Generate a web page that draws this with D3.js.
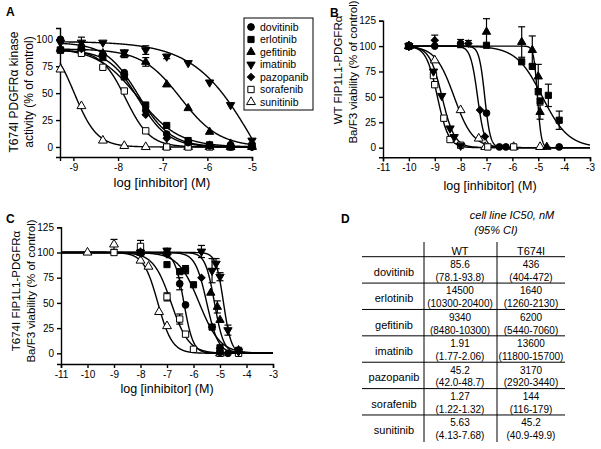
<!DOCTYPE html>
<html><head><meta charset="utf-8">
<script src="https://cdn.jsdelivr.net/npm/d3@7"></script>
<style>
body{margin:0;background:#fff}
svg{display:block}
text{font-family:"Liberation Sans",Arial,sans-serif;fill:#000}
</style>
</head><body>
<svg id="fig" width="601" height="449"></svg>
<script>
// ---------------- DATA ----------------
const drugs = ["dovitinib","erlotinib","gefitinib","imatinib","pazopanib","sorafenib","sunitinib"];

// Panel A: T674I PDGFRa kinase activity (% of control)
const doseA = [-9.29,-8.82,-8.34,-7.86,-7.38,-6.91,-6.43,-5.95,-5.48,-5.0];
const aDovitinib = [100,93,86,69,34,12,4,1,0,0];
const aErlotinib = [90,92,83,65,39,20,6,2,1,1];
const aGefitinib = [91,92,87,86,79,58,36,14,3,1];
const aImatinib  = [97,97,97,88,90,84,78,60,39,6];
const aPazopanib = [90,91,86,67,30,8,5,2,1,0];
const aSorafenib = [90,87,74,52,15,0,0,0,0,1];
const aSunitinib = [72,38,6,1,0,0,0,0,0,0];
const aErrGefitinib = [0,0,0,3,4,0,0,0,0,0];
const aErrImatinib  = [0,5,0,0,4,2,0,0,0,0];
// fitted curve parameters for panel A
const aTop    = [97,92,91,98,90,90,100];
const aBottom = [0,0,0,-100,0,0,0];
const aLogIC50= [-7.55,-7.55,-6.6,-4.88,-7.55,-7.83,-8.98];
const aHill   = [1.2,0.95,1.0,0.63,1.3,1.6,1.7];

// Panel B: WT FIP1L1-PDGFRa Ba/F3 viability  [log dose, %, error]
const bDovitinib = [[-10,100,0],[-9,100,0],[-8.0,102.5,4],[-7.0,34,0],[-6.5,0.7,0],[-6.25,0.7,0],[-4.19,0.7,0]];
const bErlotinib = [[-10,100,0],[-7.0,100.8,0],[-5.64,84.5,0],[-5.23,80,0],[-5.0,55,0],[-4.93,46,0],[-4.61,51.5,11],[-4.19,27,9]];
const bGefitinib = [[-10,100,0],[-7.0,114,13],[-5.64,104,15],[-5.23,96,14],[-5.0,70,12],[-4.93,35,7],[-4.67,0.7,0]];
const bImatinib  = [[-10,100,0],[-9.05,75,0],[-8.73,51,0],[-8.41,19,0],[-8.25,10.5,0],[-8.0,2,0]];
const bPazopanib = [[-10,100,0],[-9.0,105.8,5],[-7.7,102.5,3],[-7.25,37,0],[-7.06,11,0]];
const bSorafenib = [[-10,100,0],[-9.05,71,0],[-9.0,62,0],[-8.65,29,0],[-8.41,8,0],[-8.0,2.4,0],[-6.95,0.7,0],[-5.95,0.7,0]];
const bSunitinib = [[-10,100,0],[-9.0,86,0],[-8.0,37,0],[-7.3,9,0],[-7.05,0.7,0],[-5.95,0.7,0],[-4.93,0.7,0]];
const bHill = [4.0,0.86,6.0,1.8,3.2,2.0,1.2];

// Panel C: T674I FIP1L1-PDGFRa Ba/F3 viability  [log dose, %, error]
const cDovitinib = [[-8,100,0],[-7,100,0],[-6.52,69,6],[-6.3,48,0],[-5.0,1,0],[-4.7,0,0]];
const cErlotinib = [[-8,100,0],[-7,88,0],[-6.52,81,0],[-6.3,83,4],[-6.0,68,0],[-5.3,26,0],[-5.0,5.5,0],[-4.3,3,0]];
const cGefitinib = [[-8,100,0],[-7,100,0],[-5.35,60,0],[-5.1,46,6],[-5.0,33,0],[-4.3,3,0]];
const cImatinib  = [[-8,100,0],[-7,102,0],[-5.7,101,6],[-5.3,82,12],[-5.15,89,5],[-5.0,76,4],[-4.7,23,5],[-4.3,2,0]];
const cPazopanib = [[-8,100,0],[-7,98,0],[-5.7,75,0],[-5.3,26,0],[-5.0,5,0],[-4.3,2,0]];
const cSorafenib = [[-9,100,0],[-8,106,6],[-7,56,4],[-6.52,34,5],[-6.3,19,0],[-6.0,4,0],[-5.0,0,0],[-4.3,0,0]];
const cSunitinib = [[-10,100,0],[-9,108,5],[-8,92,0],[-7.7,86,0],[-7.3,41,0],[-7.0,27,0],[-5.0,0,0]];
const cHill = [2.5,1.1,2.5,3.0,2.0,1.3,1.6];

// Panel D: cell line IC50, nM (95% CI)
const wtIC50 = [85.6,14500,9340,1.91,45.2,1.27,5.63];
const wtCI   = ["78.1-93.8","10300-20400","8480-10300","1.77-2.06","42.0-48.7","1.22-1.32","4.13-7.68"];
const mutIC50 = [436,1640,6200,13600,3170,144,45.2];
const mutCI   = ["404-472","1260-2130","5440-7060","11800-15700","2920-3440","116-179","40.9-49.9"];

const ticksA_x = [-9,-8,-7,-6,-5];
const ticksA_y = [0,25,50,75,100];
const ticksBC_x = [-11,-10,-9,-8,-7,-6,-5,-4,-3];
const ticksBC_y = [0,25,50,75,100,125];

// ---------------- DRAWING ----------------
const svg = d3.select("#fig");
svg.append("rect").attr("width",601).attr("height",449).attr("fill","#fff");
const FONT = '"Liberation Sans",Arial,sans-serif';

const aValues = [aDovitinib,aErlotinib,aGefitinib,aImatinib,aPazopanib,aSorafenib,aSunitinib];
const aErrors = [null,null,aErrGefitinib,aErrImatinib,null,null,null];
const bPoints = [bDovitinib,bErlotinib,bGefitinib,bImatinib,bPazopanib,bSorafenib,bSunitinib];
const cPoints = [cDovitinib,cErlotinib,cGefitinib,cImatinib,cPazopanib,cSorafenib,cSunitinib];

function logistic(top,bottom,c,h){ return x => bottom + (top-bottom)/(1+Math.pow(10,h*(x-c))); }

function drawMarker(g, i, x, y){
  const s = g.append("path").attr("stroke","#000").attr("stroke-width",1);
  let t = `translate(${x},${y})`;
  let p;
  if(i===0){ p = d3.symbol().type(d3.symbolCircle).size(36)(); s.attr("fill","#000"); }
  else if(i===1){ p = d3.symbol().type(d3.symbolSquare).size(38)(); s.attr("fill","#000"); }
  else if(i===2){ p = d3.symbol().type(d3.symbolTriangle).size(30)(); s.attr("fill","#000"); }
  else if(i===3){ p = d3.symbol().type(d3.symbolTriangle).size(30)(); s.attr("fill","#000"); t += " rotate(180)"; }
  else if(i===4){ p = d3.symbol().type(d3.symbolSquare).size(26)(); s.attr("fill","#000"); t += " rotate(45)"; }
  else if(i===5){ p = d3.symbol().type(d3.symbolSquare).size(40)(); s.attr("fill","#fff"); }
  else { p = d3.symbol().type(d3.symbolTriangle).size(34)(); s.attr("fill","#fff"); }
  s.attr("d",p).attr("transform",t);
}

function drawPanel(cfg){
  const g = svg.append("g");
  const x = d3.scaleLinear().domain(cfg.xDom).range(cfg.xRange);
  const y = d3.scaleLinear().domain(cfg.yDom).range(cfg.yRange);
  // axes
  const ax = g.append("g").attr("transform",`translate(0,${cfg.yRange[0]})`)
    .call(d3.axisBottom(x).tickValues(cfg.xTicks).tickFormat(d=>String(d)).tickSizeOuter(0).tickSize(4).tickPadding(3));
  const ay = g.append("g").attr("transform",`translate(${cfg.xRange[0]},0)`)
    .call(d3.axisLeft(y).tickValues(cfg.yTicks).tickFormat(d=>String(d)).tickSizeOuter(0).tickSize(4).tickPadding(3));
  [ax,ay].forEach(a=>{
    a.selectAll("path,line").attr("stroke","#000").attr("stroke-width",1.4);
    a.selectAll("text").attr("font-size",10).attr("font-family",FONT).attr("fill","#000");
  });
  // curves
  const line = d3.line().x(d=>x(d[0])).y(d=>y(d[1]));
  cfg.curves.forEach(f=>{
    const pts = d3.range(cfg.curveDom[0], cfg.curveDom[1]+1e-9, 0.01).map(v=>[v,f(v)]);
    g.append("path").attr("d",line(pts)).attr("fill","none").attr("stroke","#000").attr("stroke-width",1.4);
  });
  // points
  for(let i=cfg.points.length-1;i>=0;i--){
    cfg.points[i].forEach(p=>{
      if(p[2]>0){
        const px=x(p[0]), y1=y(p[1]+p[2]), y2=y(p[1]-p[2]);
        g.append("line").attr("x1",px).attr("x2",px).attr("y1",y1).attr("y2",y2).attr("stroke","#000").attr("stroke-width",1.2);
        g.append("line").attr("x1",px-3.5).attr("x2",px+3.5).attr("y1",y1).attr("y2",y1).attr("stroke","#000").attr("stroke-width",1.2);
        g.append("line").attr("x1",px-3.5).attr("x2",px+3.5).attr("y1",y2).attr("y2",y2).attr("stroke","#000").attr("stroke-width",1.2);
      }
      drawMarker(g,i,x(p[0]),y(p[1]));
    });
  }
  // titles
  g.append("text").attr("x",cfg.xTitle[0]).attr("y",cfg.xTitle[1]).attr("text-anchor","middle")
    .attr("font-size",cfg.xTitleSize).text("log [inhibitor] (M)");
  cfg.yTitles.forEach(t=>{
    g.append("text").attr("transform",`translate(${t[0]},${t[1]}) rotate(-90)`).attr("text-anchor","middle")
      .attr("font-size",cfg.yTitleSize).text(t[2]);
  });
  g.append("text").attr("x",cfg.letter[0]).attr("y",cfg.letter[1]).attr("font-size",12).attr("font-weight","bold").text(cfg.letter[2]);
}

// Panel A
drawPanel({
  xDom:[-9.3,-5], xRange:[60,252], yDom:[-9.3,110.5], yRange:[157,28],
  xTicks:ticksA_x, yTicks:ticksA_y, curveDom:[-9.3,-5],
  curves: drugs.map((d,i)=>logistic(aTop[i],aBottom[i],aLogIC50[i],aHill[i])),
  points: aValues.map((vals,i)=>vals.map((v,k)=>[doseA[k],v,aErrors[i]?aErrors[i][k]:0])),
  xTitle:[162,187], xTitleSize:13,
  yTitles:[[18,92,"T674I PDGFRα kinase"],[33,92,"activity (% of control)"]], yTitleSize:12,
  letter:[6,16,"A"]
});
// Panel B
drawPanel({
  xDom:[-11,-3], xRange:[383,590], yDom:[-9.5,125], yRange:[157.3,20.7],
  xTicks:ticksBC_x, yTicks:ticksBC_y, curveDom:[-10,-3],
  curves: drugs.map((d,i)=>logistic(100,0,Math.log10(wtIC50[i]*1e-9),bHill[i])),
  points: bPoints,
  xTitle:[490,190], xTitleSize:12.5,
  yTitles:[[342,70,"WT FIP1L1-PDGFRα"],[357,72,"Ba/F3 viability (% of control)"]], yTitleSize:11.5,
  letter:[330,17,"B"]
});
// Panel C
drawPanel({
  xDom:[-11,-3], xRange:[61,273], yDom:[-10.6,125], yRange:[364,227.3],
  xTicks:ticksBC_x, yTicks:ticksBC_y, curveDom:[-11,-3],
  curves: drugs.map((d,i)=>logistic(100,0,Math.log10(mutIC50[i]*1e-9),cHill[i])),
  points: cPoints,
  xTitle:[167,393], xTitleSize:12.5,
  yTitles:[[20,291,"T674I FIP1L1-PDGFRα"],[35,291,"Ba/F3 viability (% of control)"]], yTitleSize:11.5,
  letter:[6,223,"C"]
});

// Legend (panel A)
const leg = svg.append("g");
leg.append("rect").attr("x",244).attr("y",18).attr("width",69).attr("height",92)
  .attr("fill","#fff").attr("stroke","#000").attr("stroke-width",1);
drugs.forEach((d,i)=>{
  const yy = 27 + 12.5*i;
  drawMarker(leg,i,251,yy);
  leg.append("text").attr("x",260).attr("y",yy+3.8).attr("font-size",10.5).text(d);
});

// Panel D table
const tg = svg.append("g");
tg.append("text").attr("x",341).attr("y",223).attr("font-size",12).attr("font-weight","bold").text("D");
tg.append("text").attr("x",512).attr("y",219).attr("text-anchor","middle").attr("font-size",11).attr("font-style","italic").text("cell line IC50, nM");
tg.append("text").attr("x",496).attr("y",234).attr("text-anchor","middle").attr("font-size",11).attr("font-style","italic").text("(95% CI)");
const colWT = 460, colMut = 531, colLab = 394;
const rowTop = 256.7, rowH = 26.38;
tg.append("text").attr("x",colWT).attr("y",255).attr("text-anchor","middle").attr("font-size",11).text("WT");
tg.append("text").attr("x",colMut).attr("y",255).attr("text-anchor","middle").attr("font-size",11).text("T674I");
[424,497].forEach(vx=>tg.append("line").attr("x1",vx).attr("x2",vx).attr("y1",242).attr("y2",442).attr("stroke","#000").attr("stroke-width",1));
drugs.forEach((d,i)=>{
  const top = rowTop + rowH*i, c = top + rowH/2;
  tg.append("line").attr("x1",362).attr("x2",565).attr("y1",top).attr("y2",top).attr("stroke","#000").attr("stroke-width",1);
  tg.append("text").attr("x",colLab).attr("y",c+6).attr("text-anchor","middle").attr("font-size",11).text(d);
  tg.append("text").attr("x",colWT).attr("y",c-1.8).attr("text-anchor","middle").attr("font-size",10).text(String(wtIC50[i]));
  tg.append("text").attr("x",colWT).attr("y",c+11).attr("text-anchor","middle").attr("font-size",10).text("("+wtCI[i]+")");
  tg.append("text").attr("x",colMut).attr("y",c-1.8).attr("text-anchor","middle").attr("font-size",10).text(String(mutIC50[i]));
  tg.append("text").attr("x",colMut).attr("y",c+11).attr("text-anchor","middle").attr("font-size",10).text("("+mutCI[i]+")");
});
</script>
</body></html>
